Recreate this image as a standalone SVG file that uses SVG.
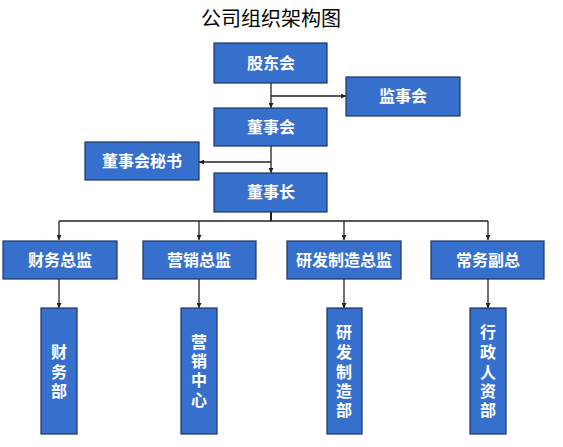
<svg xmlns="http://www.w3.org/2000/svg" width="563" height="447" viewBox="0 0 563 447">
<defs>
<style>
.box{fill:#3670CC;stroke:#1E3560;stroke-width:1.2}
.t{font-family:"Liberation Sans","Noto Sans CJK SC",sans-serif;font-size:16px;font-weight:bold;fill:#ffffff;text-anchor:middle;dominant-baseline:central}
.title{font-family:"Noto Sans CJK SC",sans-serif;font-size:20px;fill:#000;text-anchor:middle;dominant-baseline:central}
.c{fill:none;stroke:#222;stroke-width:1.3}
</style>
<marker id="ah" viewBox="0 0 8 8" refX="8" refY="4" markerWidth="5" markerHeight="5" orient="auto" markerUnits="userSpaceOnUse">
<path d="M0,0 L8,4 L0,8 z" fill="#222"/>
</marker>
</defs>
<rect width="563" height="447" fill="#fff"/>
<text class="title" x="271" y="17">公司组织架构图</text>
<g id="connectors">
<path class="c" d="M271,83 V108" marker-end="url(#ah)"/>
<path class="c" d="M271,96 H346" marker-end="url(#ah)"/>
<path class="c" d="M271,146 V173" marker-end="url(#ah)"/>
<path class="c" d="M271,162 H199" marker-end="url(#ah)"/>
<path class="c" d="M271,212 V221" style="stroke-width:2"/>
<path class="c" d="M59,221 H488"/>
<path class="c" d="M59,221 V240" marker-end="url(#ah)"/>
<path class="c" d="M199,221 V240" marker-end="url(#ah)"/>
<path class="c" d="M344,221 V240" marker-end="url(#ah)"/>
<path class="c" d="M488,221 V240" marker-end="url(#ah)"/>
<path class="c" d="M59,279 V308" marker-end="url(#ah)"/>
<path class="c" d="M199,279 V308" marker-end="url(#ah)"/>
<path class="c" d="M344,279 V308" marker-end="url(#ah)"/>
<path class="c" d="M488,279 V308" marker-end="url(#ah)"/>
</g>
<g id="gudonghui"><rect class="box" x="214" y="43" width="113" height="40"/><text class="t" x="271" y="63">股东会</text></g>
<g id="jianshihui"><rect class="box" x="346" y="77" width="114" height="39"/><text class="t" x="403" y="96">监事会</text></g>
<g id="dongshihui"><rect class="box" x="214" y="108" width="113" height="38"/><text class="t" x="271" y="127">董事会</text></g>
<g id="mishu"><rect class="box" x="85" y="142" width="114" height="38"/><text class="t" x="142" y="161">董事会秘书</text></g>
<g id="dongshizhang"><rect class="box" x="214" y="173" width="113" height="39"/><text class="t" x="271" y="192">董事长</text></g>
<g id="caiwu"><rect class="box" x="3" y="241" width="114" height="38"/><text class="t" x="60" y="260">财务总监</text></g>
<g id="yingxiao"><rect class="box" x="143" y="241" width="113" height="38"/><text class="t" x="199" y="260">营销总监</text></g>
<g id="yanfa"><rect class="box" x="287" y="241" width="114" height="38"/><text class="t" x="344" y="260">研发制造总监</text></g>
<g id="changwu"><rect class="box" x="431" y="241" width="113" height="38"/><text class="t" x="488" y="260">常务副总</text></g>
<g id="caiwubu"><rect class="box" x="41" y="308" width="36" height="126"/>
<text class="t" x="59" y="352">财</text><text class="t" x="59" y="372">务</text><text class="t" x="59" y="391">部</text></g>
<g id="yingxiaozhongxin"><rect class="box" x="181" y="308" width="36" height="126"/>
<text class="t" x="199" y="342">营</text><text class="t" x="199" y="361">销</text><text class="t" x="199" y="380">中</text><text class="t" x="199" y="400">心</text></g>
<g id="yanfabu"><rect class="box" x="327" y="308" width="35" height="126"/>
<text class="t" x="344" y="332">研</text><text class="t" x="344" y="352">发</text><text class="t" x="344" y="372">制</text><text class="t" x="344" y="391">造</text><text class="t" x="344" y="410">部</text></g>
<g id="xingzhengbu"><rect class="box" x="470" y="308" width="36" height="126"/>
<text class="t" x="488" y="332">行</text><text class="t" x="488" y="352">政</text><text class="t" x="488" y="372">人</text><text class="t" x="488" y="391">资</text><text class="t" x="488" y="410">部</text></g>
</svg>
